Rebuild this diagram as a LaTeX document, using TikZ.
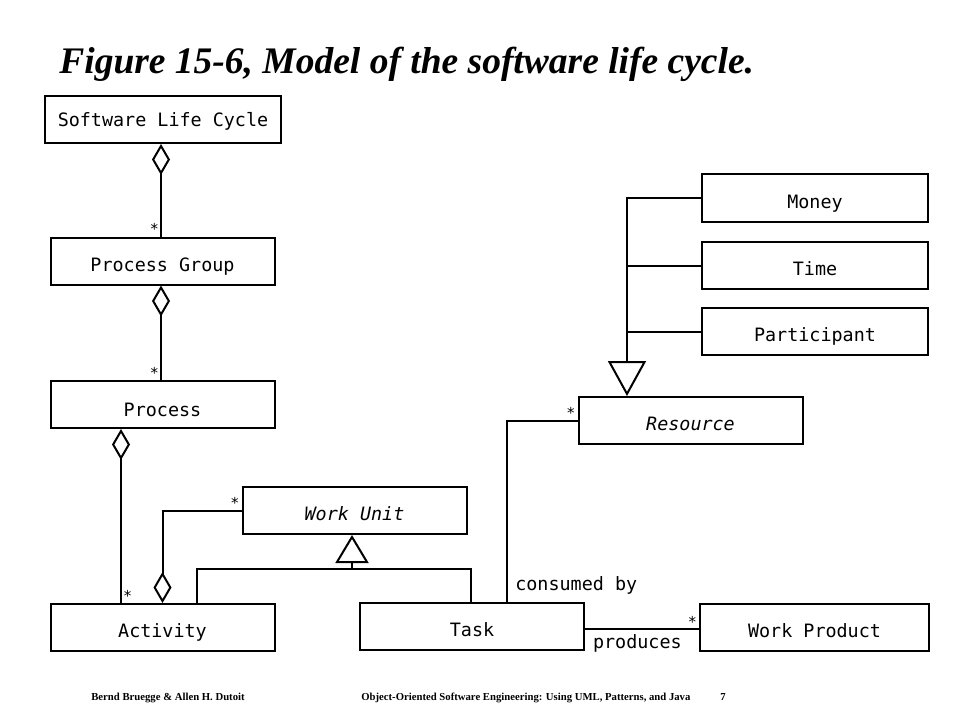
\documentclass[tikz,border=0pt]{standalone}
\usepackage{fontspec}
\setmainfont{Liberation Serif}
\setmonofont{DejaVu Sans Mono}
\usepackage{tikz}
\usetikzlibrary{arrows.meta}
\usetikzlibrary{positioning}

\begin{document}
\begin{tikzpicture}[x=1pt, y=1pt, line width=2pt,
    every node/.style={font=\fontsize{18.4}{22}\selectfont\ttfamily},
    cls/.style={draw, rectangle, line width=2pt, minimum width=224pt, minimum height=47pt, inner sep=0pt,
        text height=20pt, text depth=0pt},
    agg/.style={{Diamond[open, length=31pt, width=18pt]}-},
    gen/.style={{Triangle[open, length=28pt, width=33pt]}-},
    mult/.style={inner sep=1pt, font=\fontsize{15}{18}\selectfont\ttfamily}]
    \useasboundingbox (0,0) rectangle (960,-720);

    \node[anchor=base west, font=\fontsize{37.5}{40}\selectfont\bfseries\itshape] (title) at (55,-73)
        {Figure 15-6, Model of the software life cycle.};

    \node (slc) [cls, minimum width=236pt, text height=14pt] at (163,-119.5) {Software Life Cycle};
    \node (pg) [cls] at (162.5,-261) {Process Group};
    \node (proc) [cls, text height=24pt] at (162.5,-404.5) {Process};
    \node (act) [cls] at (162.5,-627.5) {Activity};
    \node (wu) [cls, font=\fontsize{18.4}{22}\selectfont\ttfamily\itshape] at (354.5,-510.5) {Work Unit};
    \node (task) [cls] at (472,-626) {Task};
    \node (wp) [cls, minimum width=229pt] at (814.5,-627.5) {Work Product};
    \node (res) [cls, font=\fontsize{18.4}{22}\selectfont\ttfamily\itshape] at (690.5,-420.5) {Resource};
    \node (money) [cls, minimum width=226pt, minimum height=48pt] at (815,-198) {Money};
    \node (time) [cls, minimum width=226pt] at (815,-265.5) {Time};
    \node (part) [cls, minimum width=226pt] at (815,-331.5) {Participant};

    \draw[agg] ([xshift=-2pt]slc.south) -- ([xshift=-1.5pt]pg.north) node[mult, above left] {*};
    \draw[agg] ([xshift=-1.5pt]pg.south) -- ([xshift=-1.5pt]proc.north) node[mult, above left] {*};
    \draw[agg] ([xshift=-41.5pt]proc.south) -- ([xshift=-41.5pt]act.north) node[mult, above right] {*};
    \draw[agg] (act.north) |- (wu.west) node[mult, above left] {*};

    \draw[gen] ([xshift=-2.5pt]wu.south) -- ++(0,-34) coordinate (wuj);
    \draw ([xshift=34.5pt]act.north) |- (wuj) -| ([xshift=-1pt]task.north);

    \draw[{Triangle[open, length=35pt, width=38pt]}-] ([xshift=-63.5pt]res.north) -- (part.west -| 627,0) coordinate (resj);
    \draw (resj) |- (money.west);
    \draw (time.west -| resj) -- (time.west);
    \draw (part.west -| resj) -- (part.west);

    \draw ([xshift=35pt]task.north) node[anchor=south west, xshift=4pt, yshift=3pt] {consumed by}
        |- (res.west) node[mult, above left] {*};
    \draw ([yshift=-3pt]task.east) -- ([yshift=-3pt]task.east -| wp.west)
        node[mult, above left] {*} node[anchor=north east, xshift=-13pt, yshift=-1pt] {produces};

    \node[anchor=base west, font=\fontsize{10.7}{12}\selectfont\bfseries] (auth) at (87,-700) {Bernd Bruegge \& Allen H. Dutoit};
    \node[anchor=base west, font=\fontsize{10.7}{12}\selectfont\bfseries] (book) at (357,-700) {Object-Oriented Software Engineering: Using UML, Patterns, and Java};
    \node[anchor=base west, font=\fontsize{10.7}{12}\selectfont\bfseries] (page) at (716,-700) {7};
\end{tikzpicture}
\end{document}
